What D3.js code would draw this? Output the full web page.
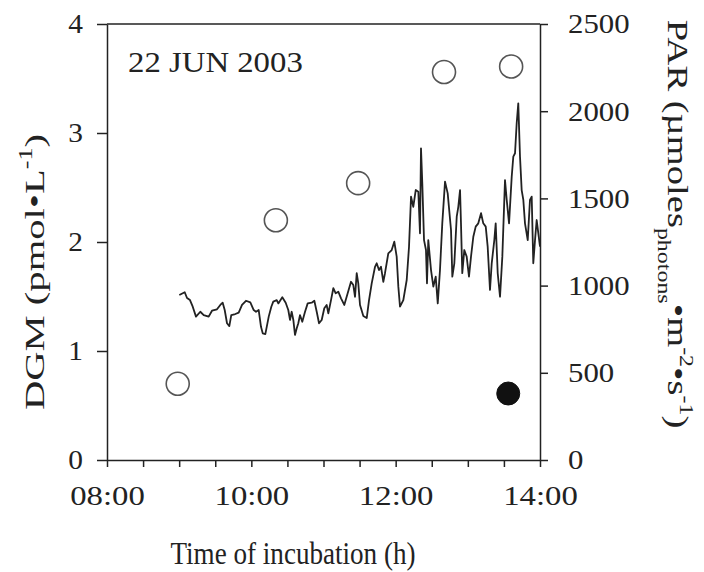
<!DOCTYPE html>
<html>
<head>
<meta charset="utf-8">
<script src="https://cdn.jsdelivr.net/npm/d3@7"></script>
<style>
  html, body { margin: 0; padding: 0; background: #fff; }
  svg text { font-family: "Liberation Serif", "Times New Roman", serif; fill: #222; }
</style>
</head>
<body>
<svg id="chart" width="704" height="572"></svg>
<script>
// ---- data ----
const panelLabel = "22 JUN 2003";
const xTickLabels = ["08:00", "10:00", "12:00", "14:00"];
const dgmTicks = [0, 1, 2, 3, 4];
const parTicks = [0, 500, 1000, 1500, 2000, 2500];

// DGM samples (open circles), time in decimal hours
const dgmTime  = [8.98, 10.34, 11.48, 12.67, 13.60];
const dgmValue = [0.70, 2.20, 2.54, 3.56, 3.61];
// DGM dark control (filled circle)
const darkTime  = [13.56];
const darkValue = [0.61];

// PAR record (line), time in decimal hours
const parTime = [
  9.002, 9.077, 9.109, 9.150, 9.188, 9.233, 9.293, 9.340, 9.409, 9.455,
  9.524, 9.570, 9.603, 9.631, 9.663, 9.695, 9.722, 9.778, 9.825, 9.871,
  9.926, 9.986, 10.033, 10.065, 10.102, 10.134, 10.158, 10.194, 10.241, 10.277,
  10.304, 10.352, 10.374, 10.429, 10.476, 10.512, 10.536, 10.559, 10.582, 10.605,
  10.629, 10.651, 10.674, 10.706, 10.744, 10.781, 10.837, 10.873, 10.906, 10.938,
  10.975, 11.011, 11.044, 11.067, 11.104, 11.136, 11.169, 11.205, 11.243, 11.288,
  11.335, 11.381, 11.413, 11.437, 11.460, 11.482, 11.506, 11.552, 11.599, 11.631,
  11.668, 11.714, 11.737, 11.769, 11.797, 11.829, 11.852, 11.898, 11.945, 11.981,
  12.014, 12.037, 12.060, 12.106, 12.153, 12.185, 12.213, 12.244, 12.278, 12.314,
  12.337, 12.351, 12.369, 12.393, 12.420, 12.434, 12.452, 12.490, 12.522, 12.555,
  12.583, 12.614, 12.646, 12.684, 12.721, 12.767, 12.785, 12.813, 12.846, 12.868,
  12.892, 12.905, 12.923, 12.951, 12.984, 13.016, 13.044, 13.076, 13.109, 13.145,
  13.183, 13.214, 13.248, 13.275, 13.307, 13.331, 13.367, 13.386, 13.414, 13.446,
  13.478, 13.515, 13.539, 13.571, 13.608, 13.630, 13.654, 13.677, 13.699, 13.723,
  13.746, 13.769, 13.792, 13.830, 13.861, 13.885, 13.907, 13.931, 13.954, 13.977,
  14.000
];
const parValue = [
  946, 962, 929, 917, 879, 822, 850, 831, 822, 856,
  864, 889, 902, 860, 784, 768, 831, 837, 845, 889,
  913, 904, 860, 850, 860, 764, 726, 722, 822, 879,
  908, 917, 898, 933, 902, 860, 803, 850, 803, 717,
  755, 784, 831, 793, 850, 898, 902, 913, 850, 784,
  803, 870, 889, 841, 917, 985, 956, 965, 927, 889,
  956, 1022, 1003, 936, 1071, 1013, 889, 826, 814, 917,
  1013, 1108, 1128, 1089, 1108, 1022, 1071, 1185, 1204, 1252,
  1166, 994, 879, 917, 1032, 1223, 1510, 1452, 1548, 1538,
  1300, 1787, 1587, 1261, 1204, 1013, 1261, 1089, 994, 1051,
  898, 1089, 1357, 1596, 1529, 1319, 1051, 1128, 1395, 1452,
  1548, 1357, 1071, 1204, 1166, 1051, 1166, 1280, 1338, 1357,
  1415, 1357, 1338, 1223, 975, 1128, 1261, 1357, 1071, 936,
  1166, 1605, 1491, 1357, 1624, 1739, 1759, 1931, 2045, 1739,
  1548, 1491, 1357, 1261, 1491, 1510, 1128, 1261, 1376, 1300,
  1223
];

// ---- layout ----
const L = 107, R = 540, T = 24, B = 460;
const svg = d3.select("#chart");

const x = d3.scaleLinear().domain([8, 14]).range([L, R]);
const yL = d3.scaleLinear().domain([0, 4]).range([B, T]);
const yR = d3.scaleLinear().domain([0, 2500]).range([B, T]);

const ink = "#222";
const fs = 28;

function stretch(sel, k) {
  sel.each(function () {
    const len = this.getComputedTextLength();
    this.setAttribute("textLength", len * k);
    this.setAttribute("lengthAdjust", "spacingAndGlyphs");
  });
}

// PAR line
const parData = parTime.map((t, i) => ({ t, v: parValue[i] }));
svg.append("path")
  .datum(parData)
  .attr("fill", "none")
  .attr("stroke", ink)
  .attr("stroke-width", 1.8)
  .attr("stroke-linejoin", "round")
  .attr("d", d3.line().x(d => x(d.t)).y(d => yR(d.v)));

// top frame line
svg.append("line")
  .attr("x1", L).attr("x2", R).attr("y1", T).attr("y2", T)
  .attr("stroke", ink).attr("stroke-width", 1.5);

// axes
function styleAxis(g) {
  g.selectAll(".domain").attr("stroke", ink).attr("stroke-width", 1.5);
  g.selectAll(".tick line").attr("stroke", ink).attr("stroke-width", 1.5);
  g.selectAll(".tick text").attr("font-size", fs).attr("font-family", "Liberation Serif").attr("fill", ink);
}

const halfHours = d3.range(8, 14.001, 0.5);
const xAxis = d3.axisBottom(x)
  .tickValues(halfHours)
  .tickSize(7).tickSizeOuter(0).tickPadding(18)
  .tickFormat(d => (Math.abs(d % 2) < 1e-9) ? xTickLabels[Math.round((d - 8) / 2)] : "");
const gx = svg.append("g").attr("transform", `translate(0,${B})`).call(xAxis).call(styleAxis);
stretch(gx.selectAll(".tick text").filter(function () { return this.textContent !== ""; }), 1.17);

const yAxisL = d3.axisLeft(yL).tickValues(dgmTicks).tickSize(10).tickSizeOuter(0).tickPadding(14).tickFormat(d3.format("d"));
const gl = svg.append("g").attr("transform", `translate(${L},0)`).call(yAxisL).call(styleAxis);
stretch(gl.selectAll(".tick text"), 1.05);

const yAxisR = d3.axisRight(yR).tickValues(parTicks).tickSize(8).tickSizeOuter(0).tickPadding(20).tickFormat(d3.format("d"));
const gr = svg.append("g").attr("transform", `translate(${R},0)`).call(yAxisR).call(styleAxis);
stretch(gr.selectAll(".tick text"), 1.1);

// DGM circles
svg.append("g").selectAll("circle")
  .data(dgmTime.map((t, i) => ({ t, v: dgmValue[i] })))
  .join("circle")
  .attr("cx", d => x(d.t)).attr("cy", d => yL(d.v)).attr("r", 11.5)
  .attr("fill", "#fff").attr("stroke", "#555").attr("stroke-width", 1.6);

svg.append("g").selectAll("circle")
  .data(darkTime.map((t, i) => ({ t, v: darkValue[i] })))
  .join("circle")
  .attr("cx", d => x(d.t)).attr("cy", d => yL(d.v)).attr("r", 11.5)
  .attr("fill", "#111").attr("stroke", "#111").attr("stroke-width", 1);

// panel label
const pl = svg.append("text").attr("x", 128).attr("y", 72).attr("font-size", 29).text(panelLabel);
stretch(pl, 1.13);

// x title
svg.append("text").attr("x", 293).attr("y", 564).attr("text-anchor", "middle")
  .attr("font-size", 31).attr("textLength", 245).attr("lengthAdjust", "spacingAndGlyphs")
  .text("Time of incubation (h)");

// left title (stretched along its reading direction)
const lt = svg.append("text")
  .attr("transform", "translate(44,272) rotate(-90) scale(1.45,1)")
  .attr("text-anchor", "middle").attr("font-size", 28);
lt.append("tspan").text("DGM (pmol•L");
lt.append("tspan").attr("font-size", 18).attr("dy", -12).text("-1");
lt.append("tspan").attr("dy", 12).text(")");

// right title
const rt = svg.append("text")
  .attr("transform", "translate(668,224) rotate(90) scale(1.33,1)")
  .attr("text-anchor", "middle").attr("font-size", 29);
rt.append("tspan").text("PAR (µmoles");
rt.append("tspan").attr("font-size", 18).attr("dy", 10).text("photons");
rt.append("tspan").attr("dy", -10).text("•m");
rt.append("tspan").attr("font-size", 18).attr("dy", -12).text("-2");
rt.append("tspan").attr("dy", 12).text("•s");
rt.append("tspan").attr("font-size", 18).attr("dy", -12).text("-1");
rt.append("tspan").attr("dy", 12).text(")");
</script>
</body>
</html>
